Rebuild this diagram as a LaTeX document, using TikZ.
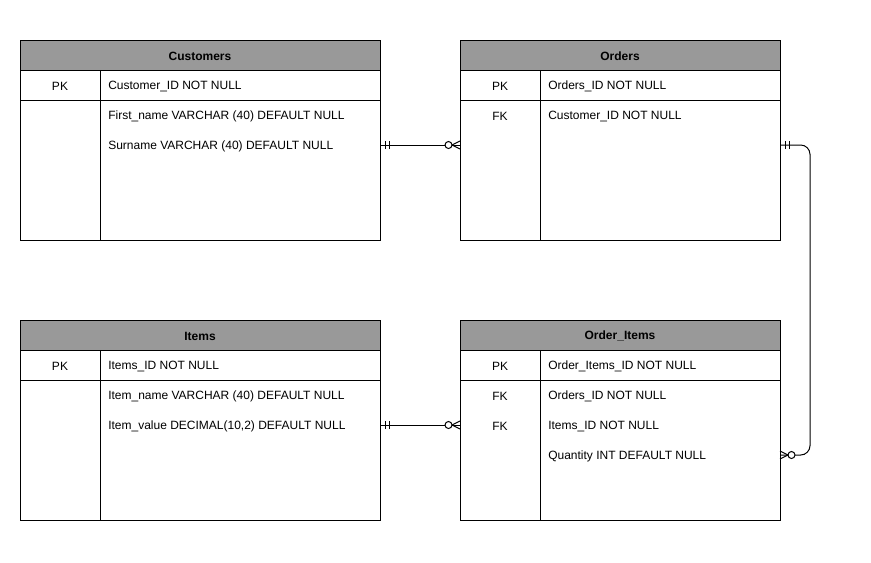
\documentclass[tikz,border=0pt]{standalone}
\usepackage{fontspec}
\setmainfont{Liberation Sans}
\definecolor{hdrgray}{HTML}{999999}
\tikzset{
  x=0.75pt, y=-0.75pt,
  every node/.style={font=\fontsize{9}{11}\selectfont, inner sep=0pt},
  frame/.style={draw=black, line width=0.75pt},
  hdrbox/.style={draw=black, line width=0.75pt, fill=hdrgray},
  title/.style={font=\fontsize{9}{11}\selectfont\bfseries, yshift=-0.75pt},
  keytxt/.style={anchor=center, yshift=-0.75pt},
  coltxt/.style={anchor=west, yshift=-0.75pt},
  rel/.style={draw=black, line width=0.75pt},
  mandone/.pic={\draw[line width=0.75pt] (5,-4)--(5,4) (9,-4)--(9,4);},
  zeromany/.pic={\draw[line width=0.75pt] (-8,0)--(0,-4) (-8,0)--(0,4);
                 \draw[line width=0.75pt, fill=white] (-11.5,0) circle[radius=3.5];},
}
\newcommand\ertable[5]{% name, X, Y, W, title
  \pgfmathsetmacro\xr{#2+#4}
  \pgfmathsetmacro\xd{#2+80}
  \pgfmathsetmacro\xm{#2+#4/2}
  \draw[hdrbox] (#2,#3) rectangle (\xr,#3+30);
  \draw[frame] (#2,#3+30) rectangle (\xr,#3+200);
  \draw[frame] (#2,#3+60) -- (\xr,#3+60);
  \draw[frame] (\xd,#3+30) -- (\xd,#3+200);
  \node[title] (#1T) at (\xm,#3+15) {#5};
}
\begin{document}
\begin{tikzpicture}
\useasboundingbox (0,0) rectangle (871,562);

\ertable{cust}{20}{40}{360}{Customers}
\ertable{ord}{460}{40}{320}{Orders}
\ertable{item}{20}{320}{360}{Items}
\ertable{oi}{460}{320}{320}{Order\_Items}

% Customers
\node[keytxt] (custk1) at (60,85) {PK};
\node[coltxt] (custc1) at (108,85) {Customer\_ID NOT NULL};
\node[coltxt] (custc2) at (108,115) {First\_name VARCHAR (40) DEFAULT NULL};
\node[coltxt] (custc3) at (108,145) {Surname VARCHAR (40) DEFAULT NULL};

% Orders
\node[keytxt] (ordk1) at (500,85) {PK};
\node[coltxt] (ordc1) at (548,85) {Orders\_ID NOT NULL};
\node[keytxt] (ordk2) at (500,115) {FK};
\node[coltxt] (ordc2) at (548,115) {Customer\_ID NOT NULL};

% Items
\node[keytxt] (itemk1) at (60,365) {PK};
\node[coltxt] (itemc1) at (108,365) {Items\_ID NOT NULL};
\node[coltxt] (itemc2) at (108,395) {Item\_name VARCHAR (40) DEFAULT NULL};
\node[coltxt] (itemc3) at (108,425) {Item\_value DECIMAL(10,2) DEFAULT NULL};

% Order_Items
\node[keytxt] (oik1) at (500,365) {PK};
\node[coltxt] (oic1) at (548,365) {Order\_Items\_ID NOT NULL};
\node[keytxt] (oik2) at (500,395) {FK};
\node[coltxt] (oic2) at (548,395) {Orders\_ID NOT NULL};
\node[keytxt] (oik3) at (500,425) {FK};
\node[coltxt] (oic3) at (548,425) {Items\_ID NOT NULL};
\node[coltxt] (oic4) at (548,455) {Quantity INT DEFAULT NULL};

% connector end points on table edges
\coordinate (custR) at (380,145);
\coordinate (ordL) at (460,145);
\coordinate (ordR) at (780,145);
\coordinate (oiR) at (780,455);
\coordinate (itemR) at (380,425);
\coordinate (oiL) at (460,425);

\draw[rel] (custR) -- (ordL);
\draw[rel, rounded corners=7pt] (ordR) -- (810,145) -- (810,455) -- (oiR);
\draw[rel] (itemR) -- (oiL);

\pic at (custR) {mandone};
\pic at (ordL) {zeromany};
\pic at (itemR) {mandone};
\pic at (oiL) {zeromany};
\pic at (ordR) {mandone};
\pic[rotate=180] at (oiR) {zeromany};
\end{tikzpicture}
\end{document}
